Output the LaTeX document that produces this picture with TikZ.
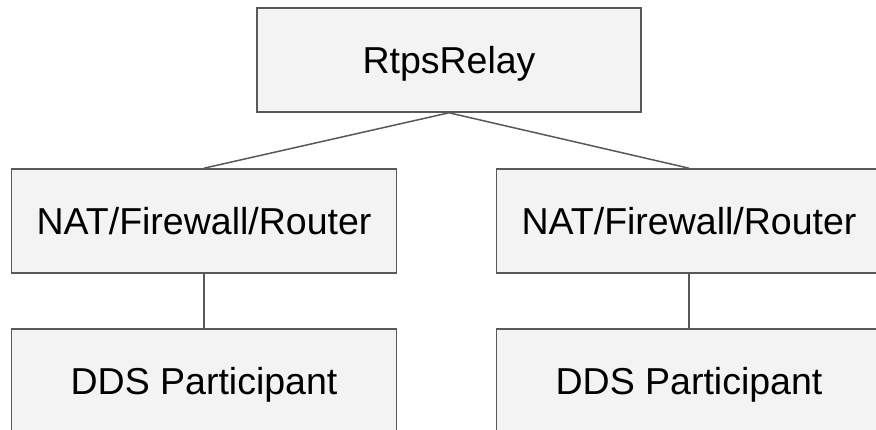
\documentclass[tikz,border=0pt]{standalone}
\usepackage{fontspec}
\setmainfont{Liberation Sans}
\definecolor{boxfill}{HTML}{F3F3F3}
\definecolor{boxline}{HTML}{595959}
\tikzset{
  box/.style={draw=boxline, fill=boxfill, line width=1.6pt, rectangle,
    minimum width=384pt, minimum height=104pt, inner sep=0pt,
    font=\fontsize{37.5pt}{42pt}\selectfont, text height=26.8pt, text depth=0pt},
  link/.style={draw=boxline, line width=1.5pt}
}
\begin{document}
\begin{tikzpicture}[x=1pt, y=-1pt]
  \useasboundingbox (0,0) rectangle (876,430);
  \clip (0,0) rectangle (876,430);
  \fill[white] (0,0) rectangle (876,430);

  % relay at the top, a router and a participant on each side
  \node[box] (relay)  at (449,60)  {RtpsRelay};
  \node[box, minimum width=385pt] (natL) at (204,221) {NAT/Firewall/Router};
  \node[box, minimum width=385pt] (natR) at (689,221) {NAT/Firewall/Router};
  \node[box, minimum width=385pt] (ddsL) at (204,381) {DDS Participant};
  \node[box, minimum width=385pt] (ddsR) at (689,381) {DDS Participant};

  % connections
  \draw[link] (relay.south) -- (natL.north);
  \draw[link] (relay.south) -- (natR.north);
  \draw[link] (natL.south) -- (ddsL.north);
  \draw[link] (natR.south) -- (ddsR.north);
\end{tikzpicture}
\end{document}
